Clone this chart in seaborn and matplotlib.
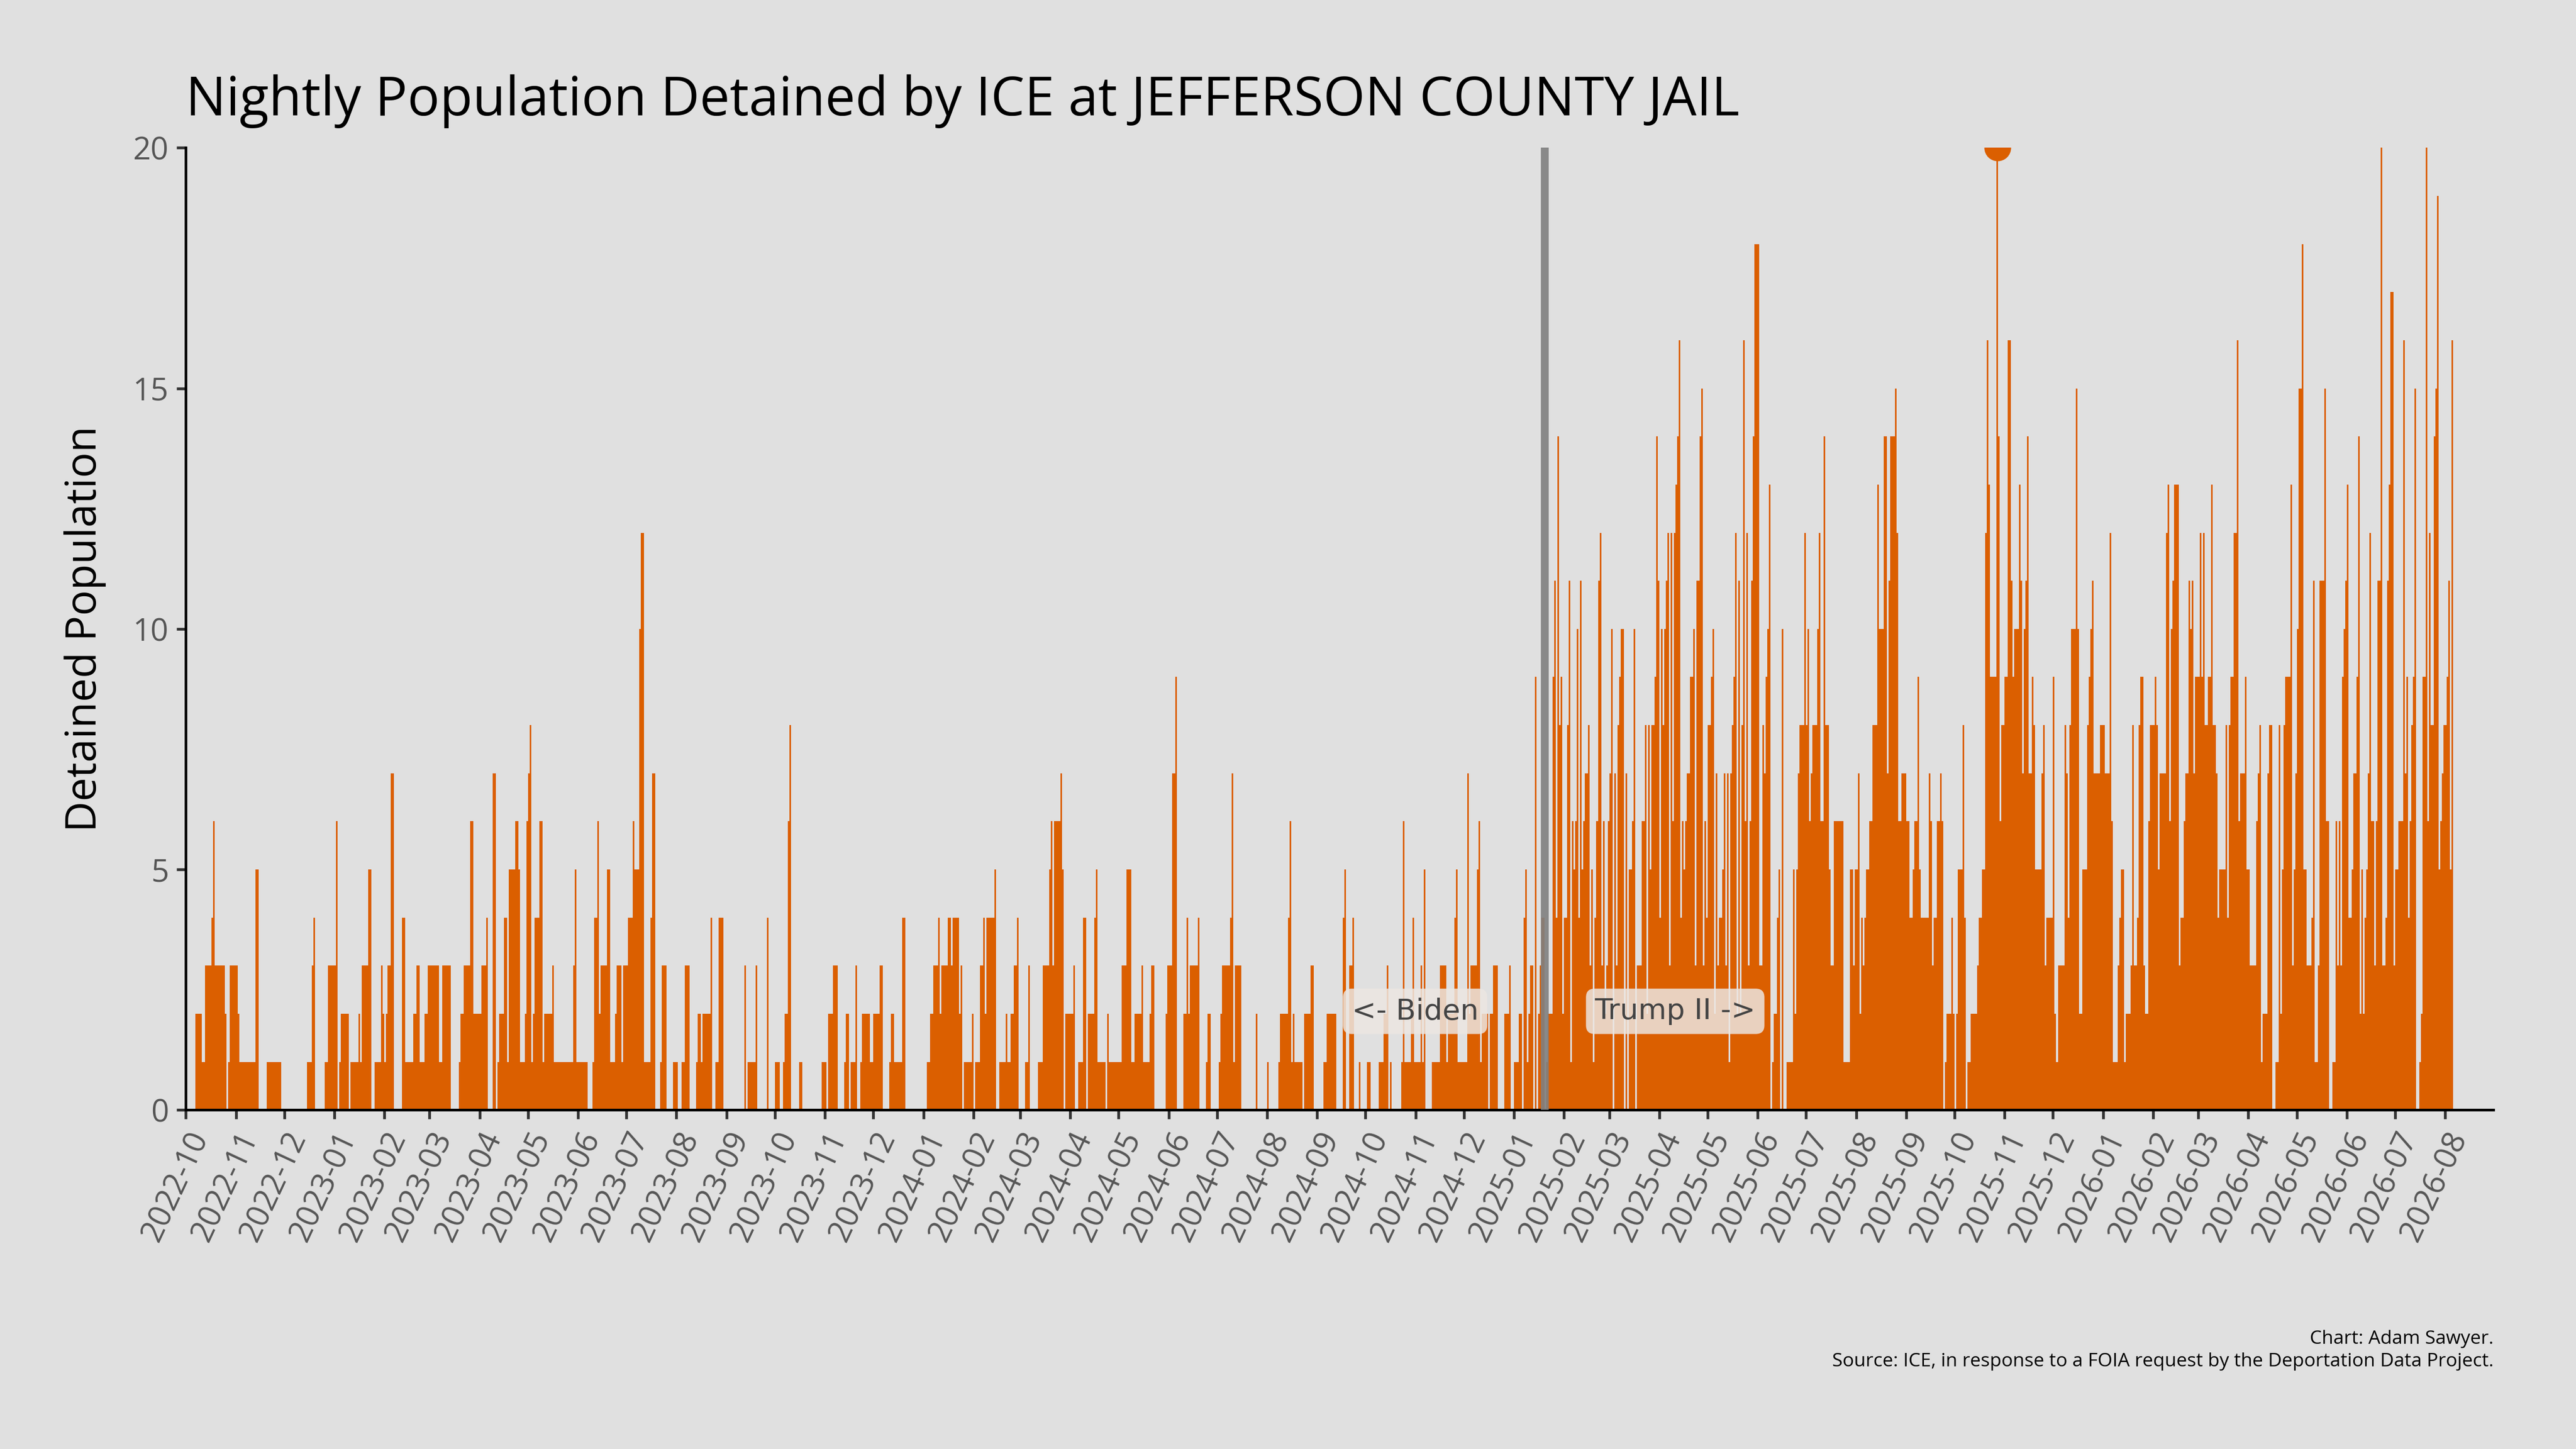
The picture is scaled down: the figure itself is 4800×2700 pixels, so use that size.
import numpy as np
import pandas as pd
import matplotlib
matplotlib.use("Agg")
import matplotlib.pyplot as plt
import matplotlib.dates as mdates
import seaborn as sns

# ---- data ----
seg1_start = "2022-10-01"
seg1_values = [0,2,1,3,4,6,3,2,0,1,3,2,1,5,0,1,0,1,3,4,0,1,3,6,0,1,2,0,1,2,1,3,5,0,1,3,2,1,2,3,7,0,4,1,2,3,1,2,3,1,3,0,1,2,3,6,2,3,4,0,7,0,1,2,4,1,5,6,5,1,2,6,7,8,1,2,4,6,1,2,3,1,3,5,1,0,1,4,6,2,3,5,1,2,3,1,3,4,6,5,10,12,1,4,7,0,1,3,0,1,0,1,3,0,1,2,1,2,4,0,1,4,0,3,0,1,3,0,4,0,1,0,1,2,6,8,0,1,0]
seg1_days   = [6,4,2,4,1,1,6,1,1,1,5,1,10,2,5,9,16,3,1,1,6,2,5,1,1,1,5,1,5,1,1,4,2,2,4,1,1,1,1,2,2,5,2,5,2,2,3,2,7,2,5,5,1,2,4,2,5,3,1,3,2,1,1,3,2,1,4,2,1,3,1,1,1,1,1,1,3,2,1,5,1,12,1,1,7,3,1,2,1,1,4,2,3,1,3,1,3,3,1,3,1,2,4,1,2,3,1,3,4,3,2,2,3,4,1,2,1,5,1,2,2,3,13,1,1,5,1,6,1,4,3,2,1,2,1,1,5,2,11]

seg2_start = "2023-10-30"
seg2_values = [1,0,2,3,0,1,2,0,1,3,0,1,2,1,2,3,0,1,2,1,4,0,1,2,3,4,2,3,4,3,4,2,3,0,1,2,0,1,3,4,2,4,5,0,1,2,1,2,3,4,0,1,3,0,1,3,5,6,3,6,7,5,0,2,3,0,1,4,0,2,4,5,1,0,2,1,3,5,1,2,3,1,2,3,0,2,3,7,9,0,2,4,2,3,4,0,1,2,0,1,2,3,4,7,1,3,0,2,0,1,0,1,2,4,6,1,2,1,0,2,3,0,1,2,0,4,5,0,3,4,0,1,0,1,0,1,2,3,0,1,0,1,6,1,2,4,1,3,1,5,0,1,3,1,2,4,5,1]
seg2_days   = [3,1,3,3,4,1,2,1,3,1,2,1,5,2,4,2,4,1,2,5,2,13,2,2,3,1,1,4,2,1,4,1,1,1,5,1,1,3,2,1,1,5,1,2,4,1,2,2,2,1,4,2,1,5,3,4,1,1,1,4,1,1,1,5,1,2,3,2,1,4,1,1,5,1,1,8,3,3,2,4,1,4,1,2,7,1,3,2,1,4,2,1,1,5,1,4,1,2,5,1,1,5,1,1,1,4,9,1,6,1,6,1,5,1,1,1,1,5,1,4,2,6,2,6,4,1,1,2,2,1,3,1,4,2,5,3,2,1,1,1,6,1,1,4,1,1,4,1,1,1,4,5,4,1,4,1,1,2]

seg3_start = "2024-11-28"
seg3_daily = [1,1,1,1,1,7,2,3,3,3,3,5,6,1,2,2,2,2,0,2,2,3,3,3,0,0,0,0,2,2,2,3,0,0,1,1,1,2,2,0,4,5,1,2,3,3,0,9,0,2,3,4,4,0,1,2,2,2,9,11,4,14,8,9,2,4,4,8,11,1,6,5,6,10,4,11,5,6,7,7,8,3,5,1,4,6,11,12,3,6,2,3,6,7,10,0,7,3,8,9,10,10,0,7,0,5,5,6,10,0,3,3,3,6,6,8,2,8,5,8,8,9,14,11,4,10,8,10,11,12,3,12,6,12,13,14,16,4,6,5,6,7,7,9,9,10,3,11,11,14,15,3,6,4,8,8,9,10,2,7,3,4,4,5,7,3,7,1,7,8,9,12,2,11,2,8,16,6,12,3,6,11,14,18,18,18,3,3,8,7,9,10,13,0,1,2,2,4,5]

seg4_start = "2025-06-16"
seg4_daily = [10,0,0,1,1,1,1,5,2,5,7,8,8,8,12,8,10,6,7,8,8,8,10,12,6,6,14,8,8,5,3,3,6,6,6,6,6,6,1,1,1,1,5,5,3,5,5,7,2,4,3,4,5,5,6,6,8,8,8,13,10,10,10,14,14,7,11,14,14,14,15,12,6,6,7,7,7,6,6,4,4,5,6,6,9,5,4,4,4,4,4,7,6,3,4,4,6,6,7,6,0,1,2,2,2,4,2,0,2,5,5,5,8,4,0,1,1,2,2,2,2,3,4,4,5,5,12,16,13,9,9,9,9,20,14,6,8,8,9,9,16,16,11,9,10,10,10,13,11,7,10,11,14,7,7,9,8,5,5,5,5,7,8,3,4,4,4,4,9,2,1,3,3,3,3,8,7,4,8,10,10,10,15,10,2,2,5,5,5,8,9,10,11,7,7,7,7,8,8]

seg5_start = "2026-01-01"
seg5_daily = [8,7,7,7,12,6,1,1,1,3,4,5,5,1,2,2,2,3,8,3,3,4,8,9,9,3,2,2,6,8,8,8,9,8,5,7,7,7,7,12,13,6,10,11,13,13,13,3,4,4,6,7,7,11,10,11,7,9,9,9,12,9,12,8,8,9,9,13,8,8,7,4,5,5,5,5,8,4,8,9,9,12,12,16,6,7,7,7,9,5,5,3,3,3,3,6,7,8,1,2,2,2,7,8,8,0,0,1,1,8,2,5,8,9,9,9,13,3,5,7,10,15,15,18,5,5,3,3,3,4,11,1,1,3,11,11,11,15,6,6,0,0,1,1,6,3,6,3,9,10,11,13,4,4,5,7,7,9,14,2,5,2,4,5,7,12,6,6,3,6,11,11,20,3,3,4,11,13,17,17,3,5,5,6,6,6,16,7,9,4,6,8,9,15,0,0,1,2,9,9,20,6,12,8,8,14,15,19,5,6,7,8,8,9,11,5,16]

biden_end = "2025-01-20"
title = "Nightly Population Detained by ICE at JEFFERSON COUNTY JAIL"
ylabel = "Detained Population"
caption = "Chart: Adam Sawyer.\nSource: ICE, in response to a FOIA request by the Deportation Data Project."

# ---- assemble the daily series ----
start = pd.Timestamp(seg1_start)
n_days = (pd.Timestamp(seg5_start) - start).days + len(seg5_daily)
counts = np.zeros(n_days)

def put(seg_start, vals):
    off = (pd.Timestamp(seg_start) - start).days
    vals = np.asarray(vals, float)[: n_days - off]
    counts[off:off + len(vals)] = vals

put(seg1_start, np.repeat(seg1_values, seg1_days))
put(seg2_start, np.repeat(seg2_values, seg2_days))
put(seg3_start, seg3_daily)
put(seg4_start, seg4_daily)
put(seg5_start, seg5_daily)
dates = pd.date_range(start, periods=n_days, freq="D")
df = pd.DataFrame({"date": dates, "pop": counts})

# ---- plot ----
sns.set_theme(style="white")
bg = "#e0e0e0"
orange = "#db5f00"
plt.rcParams["font.family"] = ["Open Sans", "DejaVu Sans"]

fig = plt.figure(figsize=(16, 9), dpi=300, facecolor=bg)
ax = fig.add_axes([0.072, 0.234, 0.896, 0.664], facecolor=bg)

ax.bar(df["date"], df["pop"], width=1.0, color=orange, linewidth=0, align="edge")
imax = int(df["pop"].values.argmax())
ax.scatter([df["date"].iloc[imax] + pd.Timedelta(hours=12)], [df["pop"].iloc[imax]],
           s=120, color=orange, zorder=4, clip_on=True)

ax.axvline(pd.Timestamp(biden_end), color="#808080", lw=3.5, alpha=0.9, zorder=3)

box = dict(boxstyle="round,pad=0.3", fc="#ece6e2", ec="none", alpha=0.85)
ax.text(pd.Timestamp("2024-12-10"), 2.05, "<- Biden", ha="right", va="center",
        fontsize=13, color="#444444", family="DejaVu Sans", bbox=box, zorder=5)
ax.text(pd.Timestamp("2025-02-20"), 2.05, "Trump II ->", ha="left", va="center",
        fontsize=13, color="#444444", family="DejaVu Sans", bbox=box, zorder=5)

ax.set_ylim(0, 20)
ax.set_yticks([0, 5, 10, 15, 20])
ax.set_xlim(pd.Timestamp("2022-09-30 18:00"), pd.Timestamp("2026-08-31"))
ax.xaxis.set_major_locator(mdates.MonthLocator())
ax.xaxis.set_major_formatter(mdates.DateFormatter("%Y-%m"))
ax.tick_params(axis="x", labelsize=14, labelcolor="#555555", rotation=65,
               length=4, color="#333333", direction="out", bottom=True)
ax.tick_params(axis="y", labelsize=14, labelcolor="#555555", length=4,
               color="#333333", direction="out", left=True)
for lab in ax.get_xticklabels():
    lab.set_ha("right")
    lab.set_rotation_mode("anchor")
sns.despine(ax=ax)
for s in ("left", "bottom"):
    ax.spines[s].set_color("black")
    ax.spines[s].set_linewidth(1.2)

ax.set_ylabel(ylabel, fontsize=19, color="black", labelpad=12)
fig.text(0.072, 0.93, title, fontsize=24, color="black", ha="left", va="center")
fig.text(0.968, 0.068, caption, fontsize=8.5, color="black", ha="right", va="center",
         linespacing=1.3)

fig.savefig("out.png", dpi=300, facecolor=bg)
